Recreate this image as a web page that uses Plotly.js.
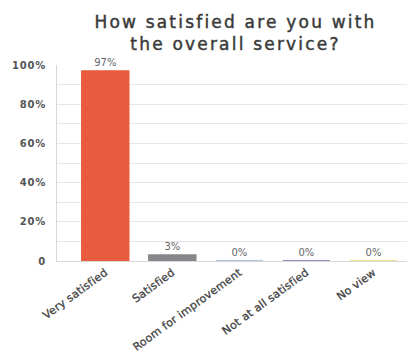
<!DOCTYPE html>
<html><head><meta charset="utf-8">
<script src="https://cdn.plot.ly/plotly-3.0.1.min.js"></script>
<style>
html,body{margin:0;padding:0;background:#fff;}
#c{width:409px;height:358px;}
#c .gtitle{letter-spacing:2.2px; stroke:#3a3a3a; stroke-width:0.45px;}
#c .ytick text{letter-spacing:0.8px;}
#c .xtick text{letter-spacing:0.2px; stroke:#444; stroke-width:0.3px;}
</style>
</head><body><div id="c"></div>
<script>
const categories = ["Very satisfied", "Satisfied", "Room for improvement", "Not at all satisfied", "No view"];
const values = [97, 3, 0, 0, 0];
const labels = ["97%", "3%", "0%", "0%", "0%"];
const colors = ["#E95B3E", "#86878B", "#8DB3E6", "#6B6FAE", "#F4D675"];
const yTickVals = [0, 20, 40, 60, 80, 100];
const yTickText = ["0", "20%", "40%", "60%", "80%", "100%"];

const trace = {
  type: "bar",
  x: categories,
  y: values,
  text: labels,
  textposition: "outside",
  cliponaxis: false,
  textfont: {family: "DejaVu Sans", size: 10, color: "#666"},
  marker: {color: colors, line: {color: colors, width: 1.5}},
  width: 0.7,
  hoverinfo: "none"
};

const layout = {
  width: 409, height: 358,
  margin: {l: 57, r: 2, t: 65, b: 97},
  paper_bgcolor: "#fff", plot_bgcolor: "#fff",
  showlegend: false,
  title: {
    text: "How satisfied are you with<br>the overall service?",
    font: {family: "DejaVu Sans", size: 17, color: "#3a3a3a"},
    x: 0.51, xref: "paper", xanchor: "center",
    y: 0.922, yref: "container", yanchor: "middle"
  },
  xaxis: {
    type: "category",
    range: [-0.72, 4.5],
    tickangle: -36,
    tickfont: {family: "DejaVu Sans", size: 11, color: "#444"},
    showline: true, linecolor: "#d8d8d8", linewidth: 1,
    ticks: "", showgrid: false, zeroline: false
  },
  yaxis: {
    range: [0, 100],
    tickvals: yTickVals,
    ticktext: yTickText,
    tickfont: {family: "DejaVu Sans", size: 10, color: "#555", weight: 600},
    showgrid: true, gridcolor: "#e6e6e6", gridwidth: 1,
    minor: {dtick: 10, showgrid: true, gridcolor: "#e6e6e6", gridwidth: 1},
    showline: true, linecolor: "#d8d8d8", linewidth: 1,
    zeroline: false, ticks: "", ticklabelstandoff: 8
  }
};

Plotly.newPlot("c", [trace], layout, {displayModeBar: false, staticPlot: true});
</script></body></html>
